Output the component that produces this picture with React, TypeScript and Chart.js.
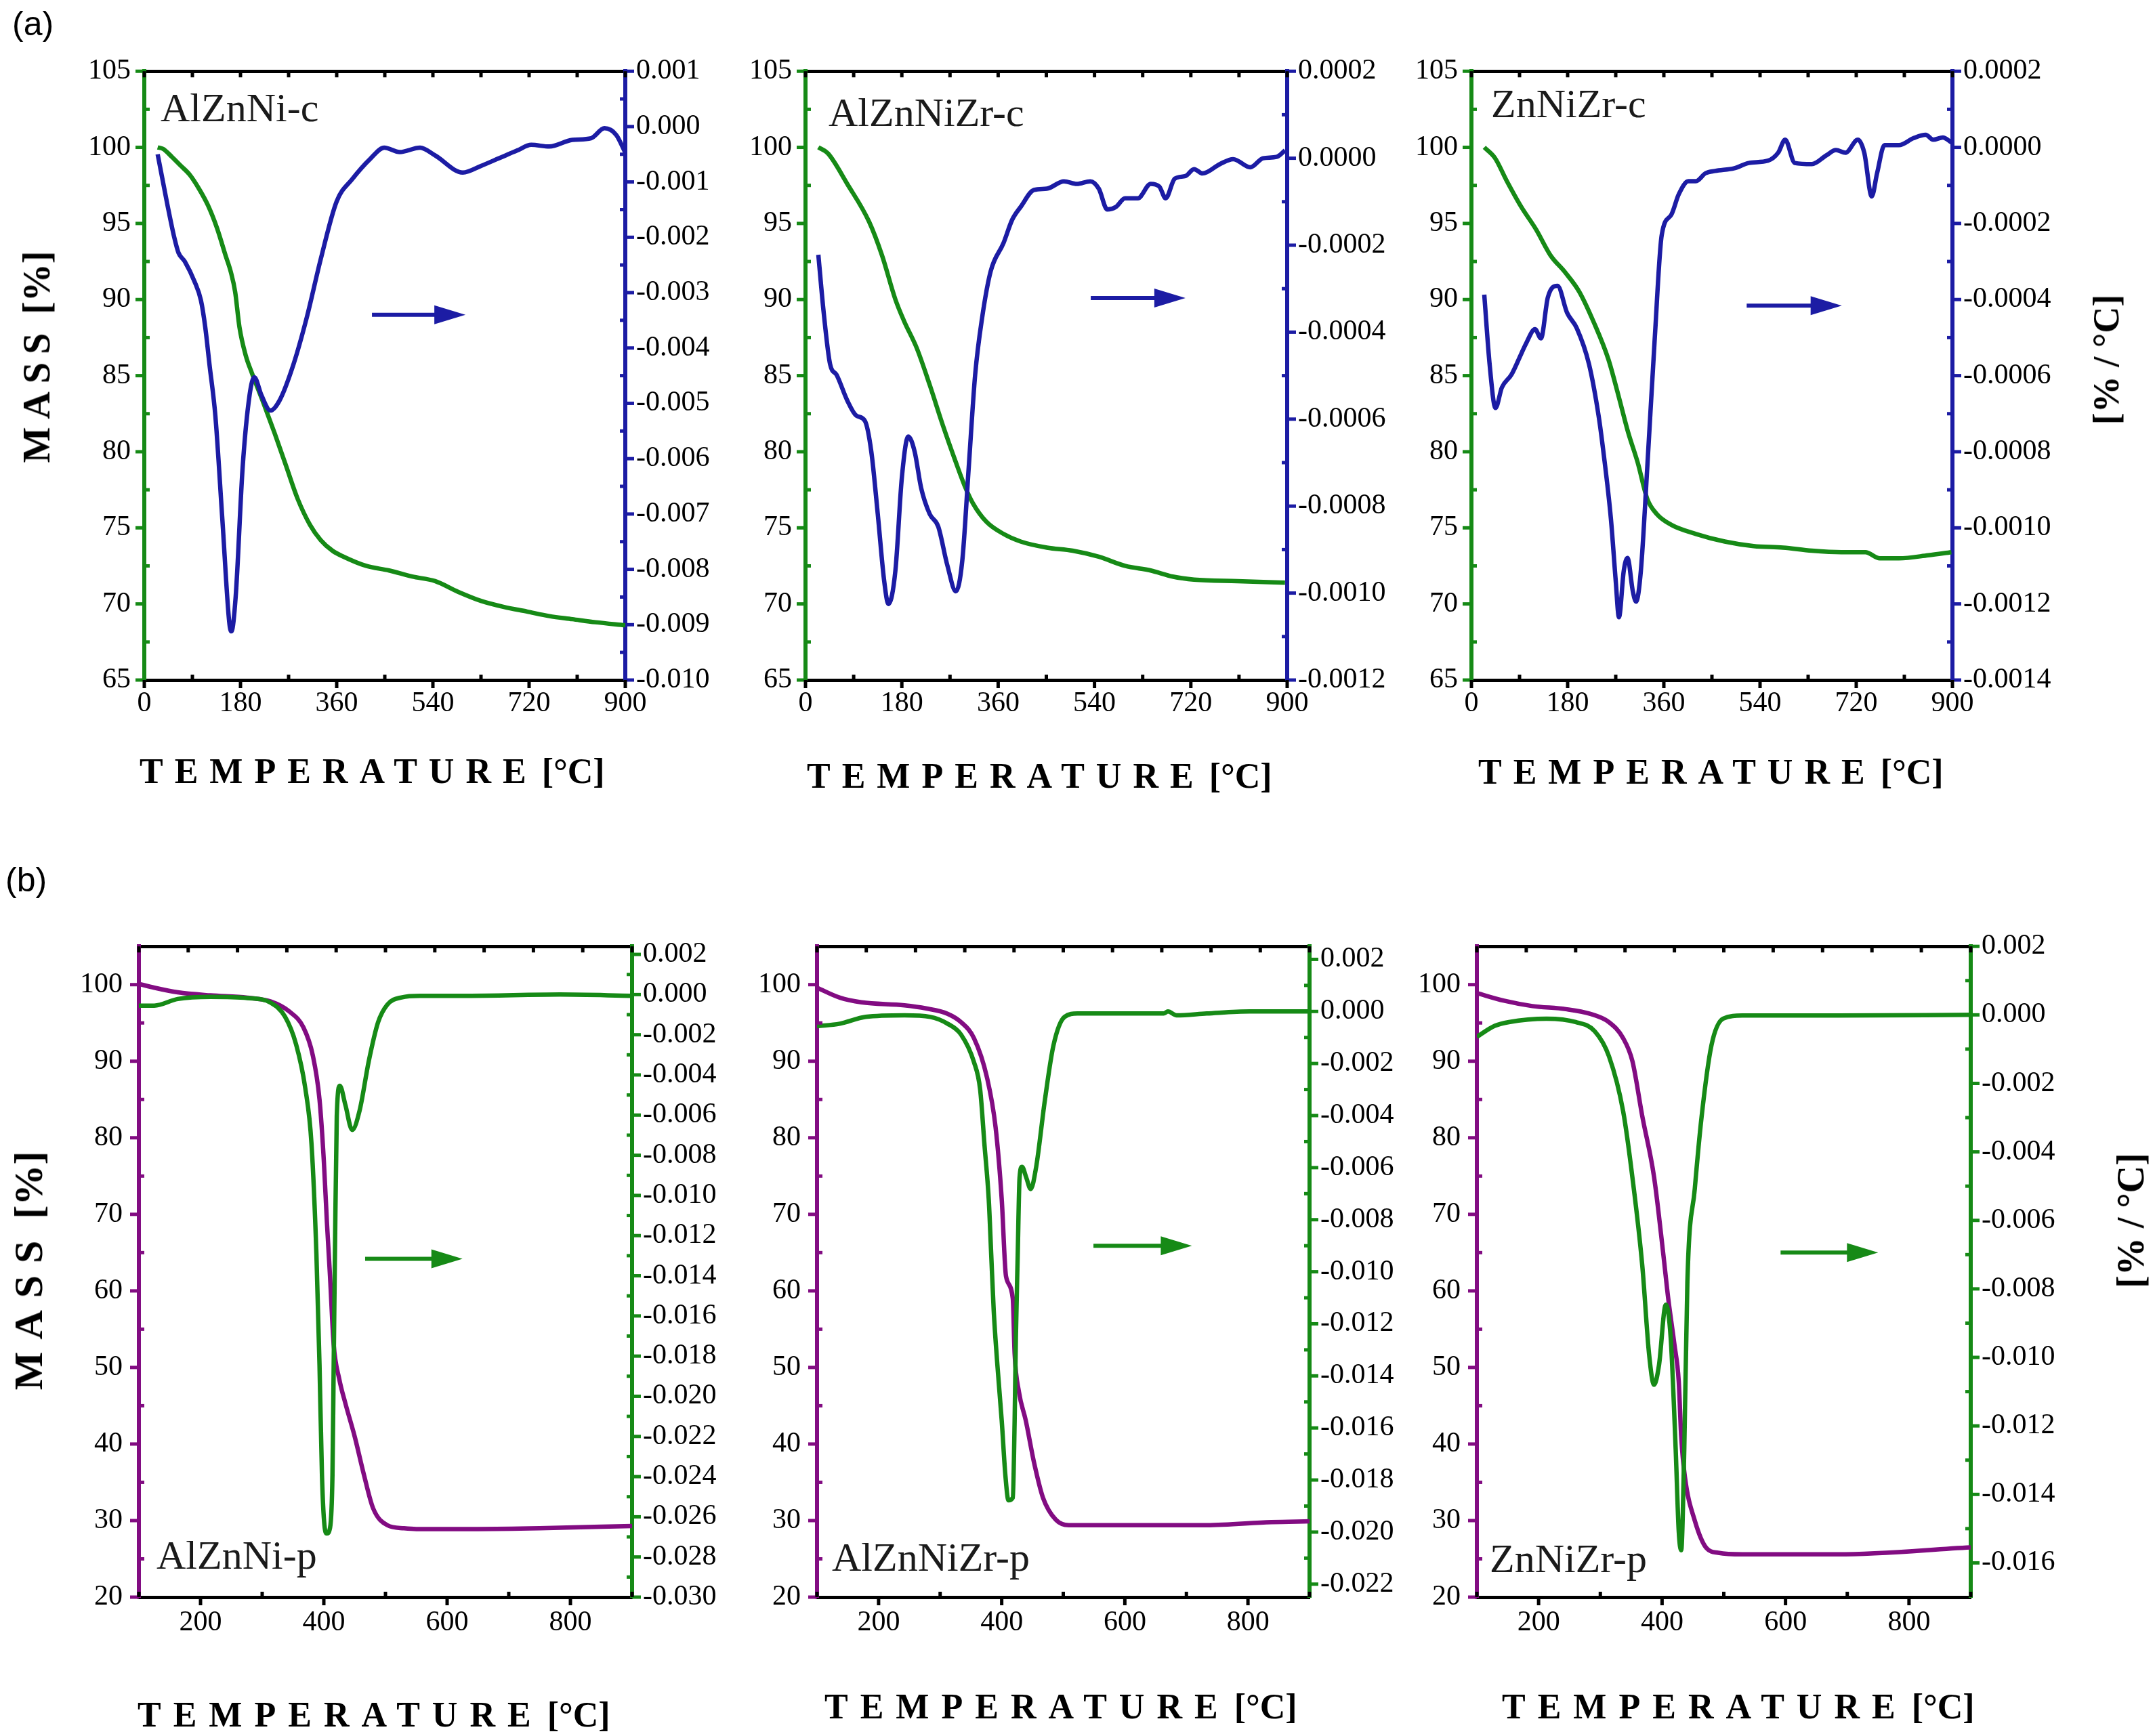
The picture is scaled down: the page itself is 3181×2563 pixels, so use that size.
import React, { useEffect, useRef } from 'react';
import { Chart, registerables } from 'chart.js';
Chart.register(...registerables);
Chart.defaults.font.family = '"Liberation Serif", "Times New Roman", serif';
Chart.defaults.font.size = 42;
Chart.defaults.color = '#000';

const GREEN = '#168a16';
const BLUE = '#1c1ca4';
const PURPLE = '#820c82';

// ---------- (a) calcined samples ----------
const c1MassT = [25, 35, 51, 68, 85, 102, 119, 136, 152, 162, 170, 178, 190, 201, 223, 244, 265, 287, 310, 330, 352, 373, 415, 458, 501, 544, 587, 630, 673, 716, 758, 801, 844, 900];
const c1Mass = [100.0, 99.9, 99.4, 98.8, 98.2, 97.3, 96.2, 94.7, 92.9, 91.8, 90.5, 88.2, 86.3, 85.2, 83.2, 81.2, 79.1, 76.9, 75.2, 74.2, 73.5, 73.1, 72.5, 72.2, 71.8, 71.5, 70.8, 70.2, 69.8, 69.5, 69.2, 69.0, 68.8, 68.6];
const c1DtgT = [25, 43, 56, 64, 76, 94, 106, 114, 122, 133, 146, 159, 163, 171, 184, 197, 206, 219, 236, 253, 279, 304, 330, 360, 389, 423, 449, 478, 516, 544, 596, 630, 664, 698, 724, 758, 801, 836, 861, 883, 900];
const c1Dtg = [-0.0005, -0.0014, -0.002, -0.00228, -0.00244, -0.0028, -0.00314, -0.00362, -0.0043, -0.00523, -0.00709, -0.00896, -0.00912, -0.00849, -0.00616, -0.00485, -0.00453, -0.00485, -0.00513, -0.00495, -0.0043, -0.00345, -0.0024, -0.00135, -0.00095, -0.00058, -0.00038, -0.00046, -0.00038, -0.00052, -0.00083, -0.00071, -0.00057, -0.00043, -0.00033, -0.00036, -0.00024, -0.00021, -0.00003, -0.00015, -0.00047];

const c2MassT = [24, 42, 78, 119, 143, 168, 184, 208, 232, 257, 281, 297, 313, 338, 370, 402, 451, 499, 548, 597, 645, 686, 726, 807, 896];
const c2Mass = [100.0, 99.6, 97.6, 95.1, 92.9, 90.0, 88.6, 86.8, 84.4, 81.7, 79.3, 77.8, 76.6, 75.4, 74.6, 74.1, 73.7, 73.5, 73.1, 72.5, 72.2, 71.8, 71.6, 71.5, 71.4];
const c2DtgT = [24, 34, 46, 58, 78, 95, 111, 123, 135, 147, 155, 168, 180, 192, 204, 216, 232, 248, 265, 281, 293, 305, 317, 330, 346, 370, 386, 402, 427, 451, 483, 507, 532, 548, 564, 580, 597, 621, 645, 661, 673, 690, 710, 726, 742, 775, 799, 831, 855, 880, 896];
const c2Dtg = [-0.000222, -0.000355, -0.000474, -0.000498, -0.000557, -0.000592, -0.000604, -0.000675, -0.000818, -0.000972, -0.001025, -0.000948, -0.000735, -0.00064, -0.000675, -0.000758, -0.000818, -0.000847, -0.000936, -0.000996, -0.000925, -0.000711, -0.000498, -0.000367, -0.00026, -0.000195, -0.000142, -0.000112, -0.000073, -0.00007, -0.000053, -0.000059, -0.000053, -0.00007, -0.000118, -0.000112, -0.000092, -0.000092, -0.000059, -0.000065, -0.000092, -0.000047, -0.000041, -0.000025, -0.000035, -0.000013, -0.000002, -0.000021, 0.0, 0.000003, 0.000018];

const c3MassT = [24, 44, 66, 93, 121, 148, 175, 202, 229, 256, 275, 293, 311, 329, 347, 374, 420, 474, 528, 583, 637, 692, 737, 764, 800, 855, 898];
const c3Mass = [100.0, 99.3, 97.8, 96.1, 94.6, 92.9, 91.8, 90.5, 88.5, 86.1, 83.7, 81.3, 79.3, 76.9, 75.9, 75.2, 74.6, 74.1, 73.8, 73.7, 73.5, 73.4, 73.4, 73.0, 73.0, 73.2, 73.4];
const c3DtgT = [24, 34, 45, 57, 75, 93, 102, 119, 130, 143, 161, 179, 197, 220, 238, 247, 261, 270, 276, 285, 292, 302, 308, 317, 329, 343, 356, 374, 388, 406, 420, 438, 456, 492, 519, 555, 574, 587, 605, 637, 664, 682, 700, 723, 735, 749, 759, 773, 800, 827, 850, 864, 882, 898];
const c3Dtg = [-0.000387, -0.00057, -0.000685, -0.000631, -0.000597, -0.000543, -0.000516, -0.000478, -0.000502, -0.000394, -0.000364, -0.000435, -0.000475, -0.00057, -0.000706, -0.000801, -0.000977, -0.00114, -0.001235, -0.001113, -0.001079, -0.001167, -0.001194, -0.001113, -0.000841, -0.000502, -0.000231, -0.000177, -0.000123, -0.000089, -0.000089, -0.000068, -0.000062, -0.000055, -0.000041, -0.000035, -0.000014, 0.00002, -0.000041, -0.000044, -0.000021, -0.000007, -0.000014, 0.00002, -0.000014, -0.000129, -0.000068, 0.000006, 0.000006, 0.000024, 0.000033, 0.00002, 0.000026, 0.000013];

// ---------- (b) precursor samples ----------
const p1MassT = [100, 125, 163, 216, 276, 314, 344, 367, 382, 393, 400, 405, 410, 416, 425, 435, 450, 465, 480, 503, 530, 550, 650, 750, 850, 900];
const p1Mass = [100.1, 99.6, 99.0, 98.6, 98.3, 97.8, 96.5, 94.4, 90.8, 85.0, 77.0, 69.0, 62.0, 53.0, 48.5, 45.3, 41.0, 36.0, 31.6, 29.4, 29.0, 28.9, 28.9, 29.0, 29.2, 29.3];
const p1DtgT = [100, 125, 163, 216, 276, 314, 337, 355, 370, 380, 388, 393, 397, 401, 405, 410, 414, 416, 418, 421, 426, 435, 446, 458, 473, 488, 503, 526, 556, 632, 783, 900];
const p1Dtg = [-0.00055, -0.00055, -0.00022, -0.00011, -0.00017, -0.00041, -0.0011, -0.00248, -0.00468, -0.00743, -0.01294, -0.01844, -0.02394, -0.02642, -0.02683, -0.02656, -0.02394, -0.01844, -0.01294, -0.00606, -0.00454, -0.0055, -0.00674, -0.00578, -0.0033, -0.00138, -0.0005, -0.00014, -0.00006, -0.00006, 0.0, -0.00006];

const p2MassT = [100, 137, 172, 242, 277, 312, 334, 355, 376, 390, 400, 407, 418, 421, 428, 439, 453, 467, 488, 509, 593, 733, 838, 900];
const p2Mass = [99.6, 98.3, 97.7, 97.3, 96.9, 96.2, 95.1, 93.0, 87.9, 81.4, 72.0, 61.9, 59.0, 51.8, 46.8, 43.1, 37.4, 33.0, 30.1, 29.4, 29.4, 29.4, 29.8, 29.9];
const p2DtgT = [100, 137, 179, 242, 284, 312, 334, 355, 365, 372, 379, 383, 387, 393, 400, 406, 411, 418, 421, 423, 426, 429, 433, 440, 447, 456, 470, 484, 502, 523, 593, 663, 670, 684, 733, 803, 900];
const p2Dtg = [-0.00057, -0.00047, -0.00021, -0.00015, -0.00021, -0.00047, -0.00089, -0.00195, -0.003, -0.00512, -0.00724, -0.00936, -0.01148, -0.01359, -0.01571, -0.01783, -0.01878, -0.01868, -0.01571, -0.01253, -0.00936, -0.00639, -0.00597, -0.00639, -0.00682, -0.00597, -0.00343, -0.00131, -0.00021, -0.00008, -0.00008, -0.00008, 0.0, -0.00015, -0.00008, 0.0, 0.0];

const p3MassT = [100, 144, 190, 244, 283, 314, 337, 352, 368, 387, 402, 410, 420, 427, 431, 437, 453, 472, 491, 530, 684, 900];
const p3Mass = [98.9, 97.9, 97.2, 96.8, 96.2, 95.1, 93.0, 90.0, 82.8, 74.9, 64.8, 59.0, 53.0, 48.2, 41.0, 35.7, 30.0, 26.4, 25.8, 25.6, 25.6, 26.5];
const p3DtgT = [100, 129, 152, 213, 260, 291, 314, 337, 352, 368, 379, 387, 395, 406, 414, 422, 427, 431, 436, 441, 453, 464, 480, 499, 530, 684, 900];
const p3Dtg = [-0.00064, -0.00032, -0.00021, -0.00011, -0.00021, -0.00048, -0.00121, -0.00282, -0.00475, -0.00733, -0.00991, -0.0108, -0.01023, -0.00846, -0.00943, -0.01265, -0.01507, -0.01563, -0.01265, -0.00781, -0.00508, -0.00298, -0.00089, -0.00011, -0.00002, -0.00002, 0.0];

// ---------- tick labels ----------
const cTempLabels = ['0', '180', '360', '540', '720', '900'];
const cMassLabels = ['65', '70', '75', '80', '85', '90', '95', '100', '105'];
const c1DtgLabels = ['0.001', '0.000', '-0.001', '-0.002', '-0.003', '-0.004', '-0.005', '-0.006', '-0.007', '-0.008', '-0.009', '-0.010'];
const c2DtgLabels = ['0.0002', '0.0000', '-0.0002', '-0.0004', '-0.0006', '-0.0008', '-0.0010', '-0.0012'];
const c3DtgLabels = ['0.0002', '0.0000', '-0.0002', '-0.0004', '-0.0006', '-0.0008', '-0.0010', '-0.0012', '-0.0014'];
const pTempLabels = ['200', '400', '600', '800'];
const pTempTicks = [100, 200, 300, 400, 500, 600, 700, 800, 900];
const pTopTicks = [100, 180, 260, 340, 420, 500, 580, 660, 740, 820, 900];
const pMassLabels = ['20', '30', '40', '50', '60', '70', '80', '90', '100'];
const p1DtgLabels = ['0.002', '0.000', '-0.002', '-0.004', '-0.006', '-0.008', '-0.010', '-0.012', '-0.014', '-0.016', '-0.018', '-0.020', '-0.022', '-0.024', '-0.026', '-0.028', '-0.030'];
const p2DtgLabels = ['0.002', '0.000', '-0.002', '-0.004', '-0.006', '-0.008', '-0.010', '-0.012', '-0.014', '-0.016', '-0.018', '-0.020', '-0.022'];
const p3DtgLabels = ['0.002', '0.000', '-0.002', '-0.004', '-0.006', '-0.008', '-0.010', '-0.012', '-0.014', '-0.016'];

// arrows: [x start, x end, mass-axis y]
const c1Arrow = [426, 601, 89.0];
const c2Arrow = [533, 710, 90.1];
const c3Arrow = [515, 693, 89.6];
const p1Arrow = [467, 625, 64.2];
const p2Arrow = [549, 709, 65.9];
const p3Arrow = [592, 750, 65.0];

const withMid = (labels: string[]) => {
  const v = labels.map(Number);
  const out: number[] = [];
  v.forEach((x, i) => {
    out.push(x);
    if (i < v.length - 1) out.push((x + v[i + 1]) / 2);
  });
  return out;
};

type Panel = {
  left: number; top: number; w: number; h: number;
  xMin: number; xMax: number; xTicks: number[]; xLabels: string[]; topTicks: number[];
  yMin: number; yMax: number; yTicks: number[]; yLabels: string[];
  y1Min: number; y1Max: number; y1Ticks: number[]; y1Labels: string[];
  massT: number[]; mass: number[]; dtgT: number[]; dtg: number[];
  massColor: string; dtgColor: string;
  name: string; nameDx: number; nameDy: number; fromBottom: boolean;
  arrow: number[]; leftPad: number; xPad: number;
};

const LW = 160, RW = 210, TH = 40, BH = 90;
const TICK_FONT = { family: '"Liberation Serif", "Times New Roman", serif', size: 42, weight: 'normal' };

function PanelChart({ p }: { p: Panel }) {
  const ref = useRef<HTMLCanvasElement>(null);
  useEffect(() => {
    const lbl = (labels: string[]) => (v: number) => {
      const f = labels.find((l) => Math.abs(Number(l) - v) < 1e-12);
      return f === undefined ? '' : f;
    };
    const setTicks = (vals: number[], labels: string[]) => (scale: any) => {
      const f = lbl(labels);
      scale.ticks = vals.map((v) => ({ value: v, lbl: f(v) }));
    };
    const cb = function (this: any, _v: any, i: number, ticks: any[]) {
      return ticks[i].lbl;
    };
    const decor = {
      id: 'decor' + p.name,
      afterDraw(chart: any) {
        const ctx = chart.ctx;
        const ca = chart.chartArea;
        const sc = chart.scales;
        const drawT = (scale: any, side: string, color: string) => {
          ctx.save();
          ctx.strokeStyle = color;
          ctx.lineWidth = 5;
          for (const t of scale.ticks) {
            const major = !!t.lbl;
            const pix = scale.getPixelForValue(t.value);
            ctx.beginPath();
            if (side === 'left') {
              ctx.moveTo(ca.left, pix);
              ctx.lineTo(major ? ca.left - 13 : ca.left + 8, pix);
            } else if (side === 'right') {
              ctx.moveTo(ca.right, pix);
              ctx.lineTo(major ? ca.right + 13 : ca.right - 8, pix);
            } else if (side === 'bottom') {
              ctx.moveTo(pix, ca.bottom);
              ctx.lineTo(pix, major ? ca.bottom + 12 : ca.bottom - 8);
            } else {
              ctx.moveTo(pix, ca.top);
              ctx.lineTo(pix, ca.top + 9);
            }
            ctx.stroke();
          }
          ctx.restore();
        };
        drawT(sc.y, 'left', p.massColor);
        drawT(sc.y1, 'right', p.dtgColor);
        drawT(sc.x, 'bottom', '#000');
        drawT(sc.x2, 'top', '#000');
        // arrow pointing to the right-hand axis
        const x0 = sc.x.getPixelForValue(p.arrow[0]);
        const x1 = sc.x.getPixelForValue(p.arrow[1]);
        const y = sc.y.getPixelForValue(p.arrow[2]);
        ctx.save();
        ctx.strokeStyle = p.dtgColor;
        ctx.fillStyle = p.dtgColor;
        ctx.lineWidth = 6;
        ctx.beginPath();
        ctx.moveTo(x0, y);
        ctx.lineTo(x1 - 40, y);
        ctx.stroke();
        ctx.beginPath();
        ctx.moveTo(x1, y);
        ctx.lineTo(x1 - 46, y - 14);
        ctx.lineTo(x1 - 46, y + 14);
        ctx.closePath();
        ctx.fill();
        ctx.restore();
        // sample name
        ctx.save();
        ctx.font = '60px "Liberation Serif", serif';
        ctx.fillStyle = '#1a1a1a';
        ctx.textBaseline = 'alphabetic';
        ctx.textAlign = 'left';
        ctx.fillText(p.name, ca.left + p.nameDx, p.fromBottom ? ca.bottom - p.nameDy : ca.top + p.nameDy);
        ctx.restore();
      },
    };
    const chart = new Chart(ref.current as HTMLCanvasElement, {
      type: 'line',
      data: {
        datasets: [
          {
            label: 'DTG',
            data: p.dtgT.map((t, i) => ({ x: t, y: p.dtg[i] })),
            xAxisID: 'x',
            yAxisID: 'y1',
            borderColor: p.dtgColor,
            borderWidth: 6.5,
            pointRadius: 0,
            cubicInterpolationMode: 'monotone',
            fill: false,
          },
          {
            label: 'Mass',
            data: p.massT.map((t, i) => ({ x: t, y: p.mass[i] })),
            xAxisID: 'x',
            yAxisID: 'y',
            borderColor: p.massColor,
            borderWidth: 6.5,
            pointRadius: 0,
            cubicInterpolationMode: 'monotone',
            fill: false,
          },
        ],
      },
      options: {
        responsive: false,
        animation: false,
        events: [],
        layout: { padding: 0 },
        plugins: { legend: { display: false }, tooltip: { enabled: false } },
        scales: {
          x: {
            type: 'linear', position: 'bottom', min: p.xMin, max: p.xMax,
            afterBuildTicks: setTicks(p.xTicks, p.xLabels),
            afterFit: (s: any) => { s.height = BH; },
            grid: { display: false, drawTicks: false },
            border: { color: '#000', width: 5 },
            ticks: { autoSkip: false, maxRotation: 0, padding: p.xPad, font: TICK_FONT, color: '#000', callback: cb },
          },
          x2: {
            type: 'linear', position: 'top', min: p.xMin, max: p.xMax,
            afterBuildTicks: setTicks(p.topTicks, []),
            afterFit: (s: any) => { s.height = TH; },
            grid: { display: false, drawTicks: false },
            border: { color: '#000', width: 5 },
            ticks: { display: false },
          },
          y: {
            type: 'linear', position: 'left', min: p.yMin, max: p.yMax,
            afterBuildTicks: setTicks(p.yTicks, p.yLabels),
            afterFit: (s: any) => { s.width = LW; },
            grid: { display: false, drawTicks: false },
            border: { color: p.massColor, width: 6 },
            ticks: { autoSkip: false, padding: p.leftPad, font: TICK_FONT, color: '#000', callback: cb },
          },
          y1: {
            type: 'linear', position: 'right', min: p.y1Min, max: p.y1Max,
            afterBuildTicks: setTicks(p.y1Ticks, p.y1Labels),
            afterFit: (s: any) => { s.width = RW; },
            grid: { display: false, drawTicks: false },
            border: { color: p.dtgColor, width: 6 },
            ticks: { autoSkip: false, padding: 16, font: TICK_FONT, color: '#000', callback: cb },
          },
        },
      } as any,
      plugins: [decor],
    });
    return () => chart.destroy();
  }, []);
  const cw = LW + p.w + RW;
  const chh = TH + p.h + BH;
  return (
    <canvas
      ref={ref}
      width={cw}
      height={chh}
      style={{ position: 'absolute', left: p.left - LW, top: p.top - TH, width: cw, height: chh }}
    />
  );
}

const topCommon = {
  top: 100, h: 904, xMin: 0, xMax: 900,
  xTicks: withMid(cTempLabels), xLabels: cTempLabels, topTicks: withMid(cTempLabels),
  yMin: 65, yMax: 105, yTicks: withMid(cMassLabels), yLabels: cMassLabels,
  massColor: GREEN, dtgColor: BLUE, fromBottom: false, leftPad: 20, xPad: 10,
};
const botCommon = {
  top: 1388, h: 970, xMin: 100, xMax: 900,
  xTicks: pTempTicks, xLabels: pTempLabels, topTicks: pTopTicks,
  yMin: 20, yMax: 105, yTicks: withMid(pMassLabels), yLabels: pMassLabels,
  massColor: PURPLE, dtgColor: GREEN, fromBottom: true, leftPad: 24, xPad: 13,
};

const panels: Panel[] = [
  { ...topCommon, left: 213, w: 710, y1Min: -0.010, y1Max: 0.001, y1Ticks: withMid(c1DtgLabels), y1Labels: c1DtgLabels,
    massT: c1MassT, mass: c1Mass, dtgT: c1DtgT, dtg: c1Dtg, name: 'AlZnNi-c', nameDx: 24, nameDy: 74, arrow: c1Arrow },
  { ...topCommon, left: 1189, w: 711, y1Min: -0.0012, y1Max: 0.0002, y1Ticks: withMid(c2DtgLabels), y1Labels: c2DtgLabels,
    massT: c2MassT, mass: c2Mass, dtgT: c2DtgT, dtg: c2Dtg, name: 'AlZnNiZr-c', nameDx: 34, nameDy: 81, arrow: c2Arrow },
  { ...topCommon, left: 2172, w: 710, y1Min: -0.0014, y1Max: 0.0002, y1Ticks: withMid(c3DtgLabels), y1Labels: c3DtgLabels,
    massT: c3MassT, mass: c3Mass, dtgT: c3DtgT, dtg: c3Dtg, name: 'ZnNiZr-c', nameDx: 29, nameDy: 68, arrow: c3Arrow },
  { ...botCommon, left: 205, w: 728, y1Min: -0.030, y1Max: 0.0024, y1Ticks: withMid(p1DtgLabels), y1Labels: p1DtgLabels,
    massT: p1MassT, mass: p1Mass, dtgT: p1DtgT, dtg: p1Dtg, name: 'AlZnNi-p', nameDx: 26, nameDy: 42, arrow: p1Arrow },
  { ...botCommon, left: 1206, w: 727, y1Min: -0.0225, y1Max: 0.0025, y1Ticks: withMid(p2DtgLabels), y1Labels: p2DtgLabels,
    massT: p2MassT, mass: p2Mass, dtgT: p2DtgT, dtg: p2Dtg, name: 'AlZnNiZr-p', nameDx: 22, nameDy: 39, arrow: p2Arrow },
  { ...botCommon, left: 2180, w: 729, y1Min: -0.017, y1Max: 0.002, y1Ticks: withMid(p3DtgLabels), y1Labels: p3DtgLabels,
    massT: p3MassT, mass: p3Mass, dtgT: p3DtgT, dtg: p3Dtg, name: 'ZnNiZr-p', nameDx: 19, nameDy: 37, arrow: p3Arrow },
];

const bold = { fontFamily: '"Liberation Serif", serif', fontWeight: 'bold' as const, color: '#000', whiteSpace: 'nowrap' as const, lineHeight: 1, position: 'absolute' as const };

function TempTitle({ left, cy, spacing }: { left: number; cy: number; spacing: number }) {
  return (
    <div style={{ ...bold, fontSize: 52, left, top: cy - 26 }}>
      <span style={{ letterSpacing: spacing }}>TEMPERATURE</span>
      <span style={{ marginLeft: 6 }}>[°C]</span>
    </div>
  );
}

function VTitle({ cx, cy, size, children }: { cx: number; cy: number; size: number; children: React.ReactNode }) {
  return (
    <div style={{ ...bold, fontSize: size, left: cx, top: cy, transform: 'translate(-50%, -50%) rotate(-90deg)' }}>
      {children}
    </div>
  );
}

export default function App() {
  useEffect(() => {
    document.body.style.margin = '0';
  }, []);
  return (
    <div style={{ position: 'relative', width: 3181, height: 2563, background: '#fff', overflow: 'hidden' }}>
      <div style={{ position: 'absolute', left: 18, top: 6, fontFamily: '"Liberation Sans", Arial, sans-serif', fontSize: 50, color: '#000' }}>(a)</div>
      <div style={{ position: 'absolute', left: 8, top: 1270, fontFamily: '"Liberation Sans", Arial, sans-serif', fontSize: 50, color: '#000' }}>(b)</div>
      {panels.map((p, i) => (
        <PanelChart key={i} p={p} />
      ))}
      <TempTitle left={206} cy={1139} spacing={17} />
      <TempTitle left={1191} cy={1146} spacing={17} />
      <TempTitle left={2182} cy={1140} spacing={17} />
      <TempTitle left={203} cy={2532} spacing={18} />
      <TempTitle left={1217} cy={2520} spacing={18} />
      <TempTitle left={2217} cy={2520} spacing={18} />
      <VTitle cx={54} cy={527} size={56}>
        <span style={{ letterSpacing: 12 }}>MASS</span>
        <span style={{ marginLeft: 16 }}>[%]</span>
      </VTitle>
      <VTitle cx={42} cy={1876} size={60}>
        <span style={{ letterSpacing: 18 }}>MASS</span>
        <span style={{ marginLeft: 14 }}>[%]</span>
      </VTitle>
      <VTitle cx={3109} cy={531} size={54}>[% / °C]</VTitle>
      <VTitle cx={3145} cy={1802} size={56}>[% / °C]</VTitle>
    </div>
  );
}
